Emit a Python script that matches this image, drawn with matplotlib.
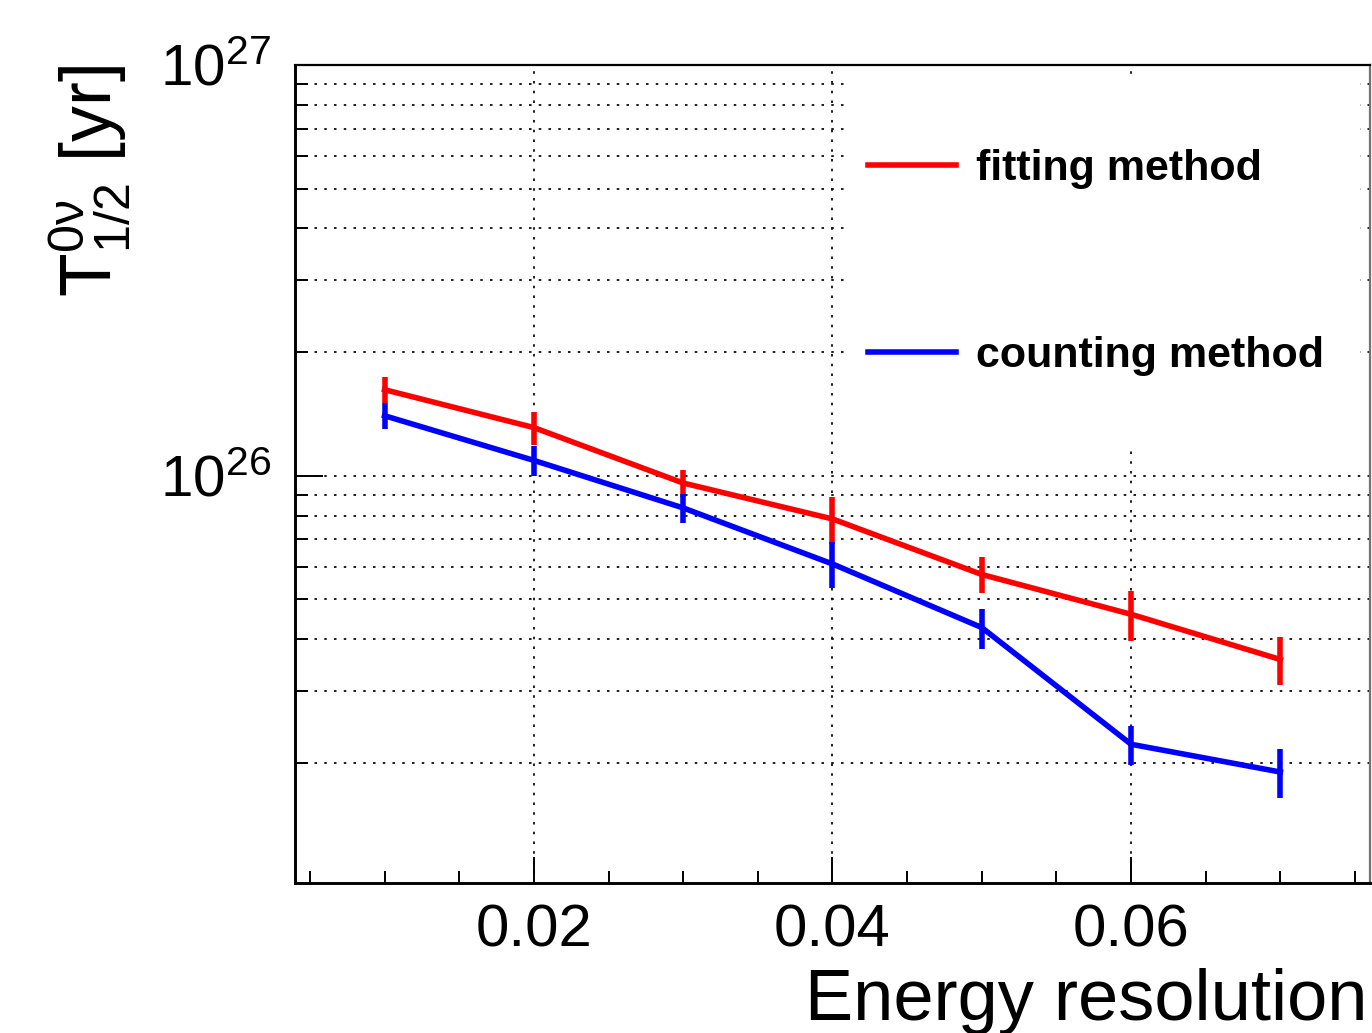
import numpy as np
import matplotlib
matplotlib.use("Agg")
import matplotlib.pyplot as plt
from matplotlib.ticker import MultipleLocator, FormatStrFormatter, LogLocator, NullFormatter
from matplotlib.patches import Rectangle

plt.rcParams['font.family'] = ['Liberation Sans', 'DejaVu Sans']
plt.rcParams['mathtext.fontset'] = 'custom'
plt.rcParams['mathtext.rm'] = 'Liberation Sans'
plt.rcParams['mathtext.it'] = 'Liberation Sans:italic'
plt.rcParams['mathtext.bf'] = 'Liberation Sans:bold'
plt.rcParams['mathtext.default'] = 'regular'

# energy resolution scan, half-life limits in units of 1e26 yr
resolution = [0.01, 0.02, 0.03, 0.04, 0.05, 0.06, 0.07]
t_fit = np.array([1.62, 1.31, 0.96, 0.785, 0.575, 0.46, 0.357])
t_fit_err = np.array([0.12, 0.12, 0.073, 0.104, 0.058, 0.064, 0.047])
t_count = np.array([1.40, 1.09, 0.835, 0.61, 0.427, 0.222, 0.19])
t_count_err = np.array([0.10, 0.092, 0.068, 0.078, 0.048, 0.024, 0.026])

labels = ['fitting method', 'counting method']
colors = ['#ff0000', '#0000ff']

fig = plt.figure(figsize=(13.72, 10.33), dpi=100)
ax = fig.add_axes([0.2150, 0.1452, 0.7835, 0.7919])

handles = []
for vals, errs, lab, col in zip([t_fit, t_count], [t_fit_err, t_count_err], labels, colors):
    ax.errorbar(resolution, vals * 1e26, yerr=errs * 1e26, fmt='none',
                ecolor=col, elinewidth=4.0, capsize=0, zorder=3)
    h, = ax.plot(resolution, vals * 1e26, color=col, lw=4.0, zorder=3, label=lab)
    handles.append(h)

ax.set_yscale('log')
ax.set_xlim(0.004, 0.076)
ax.set_ylim(1.02e25, 1e27)

ax.xaxis.set_major_locator(MultipleLocator(0.02))
ax.xaxis.set_minor_locator(MultipleLocator(0.005))
ax.xaxis.set_major_formatter(FormatStrFormatter('%.2f'))
ax.yaxis.set_major_locator(LogLocator(base=10))
ax.yaxis.set_minor_locator(LogLocator(base=10, subs=np.arange(2, 10)))
ax.yaxis.set_minor_formatter(NullFormatter())

ax.tick_params(which='both', direction='in', top=False, right=False, width=1.4, color='black')
ax.tick_params(axis='x', which='major', length=19, pad=15, labelsize=43)
ax.tick_params(axis='x', which='minor', length=8.5)
ax.tick_params(axis='y', which='major', length=20, pad=17, labelsize=42)
ax.tick_params(axis='y', which='minor', length=9.5)

# dotted ROOT-style grid
grid_style = dict(linestyle=(0, (1.4, 4.0)), color='0.05', linewidth=1.3)
ax.set_axisbelow(True)
ax.grid(which='major', axis='x', **grid_style)
ax.grid(which='both', axis='y', **grid_style)

for side in ['left', 'bottom']:
    ax.spines[side].set_linewidth(2.1)
for side in ['top', 'right']:
    ax.spines[side].set_linewidth(1.6)
ax.spines['right'].set_color('0.45')

# white area behind the legend hides the grid
ax.add_patch(Rectangle((0.5144, 0.5293), 0.4763, 0.4573, transform=ax.transAxes,
                       facecolor='white', edgecolor='none', zorder=1))

ax.legend(handles=handles, loc='upper left', bbox_to_anchor=(0.533, 0.897),
          frameon=False, borderpad=0, borderaxespad=0, handlelength=2.05,
          handletextpad=0.45, labelspacing=3.4,
          prop={'family': 'Liberation Sans', 'weight': 'bold', 'size': 31})

ax.set_xlabel('Energy resolution', fontsize=52, loc='right')
ax.xaxis.set_label_coords(0.998, -0.104)
ax.set_ylabel(r'$T^{0\nu}_{1/2}$ [yr]', fontsize=51.5, loc='top')
ax.yaxis.set_label_coords(-0.151, 1.0)

fig.savefig('out.png', dpi=100)
